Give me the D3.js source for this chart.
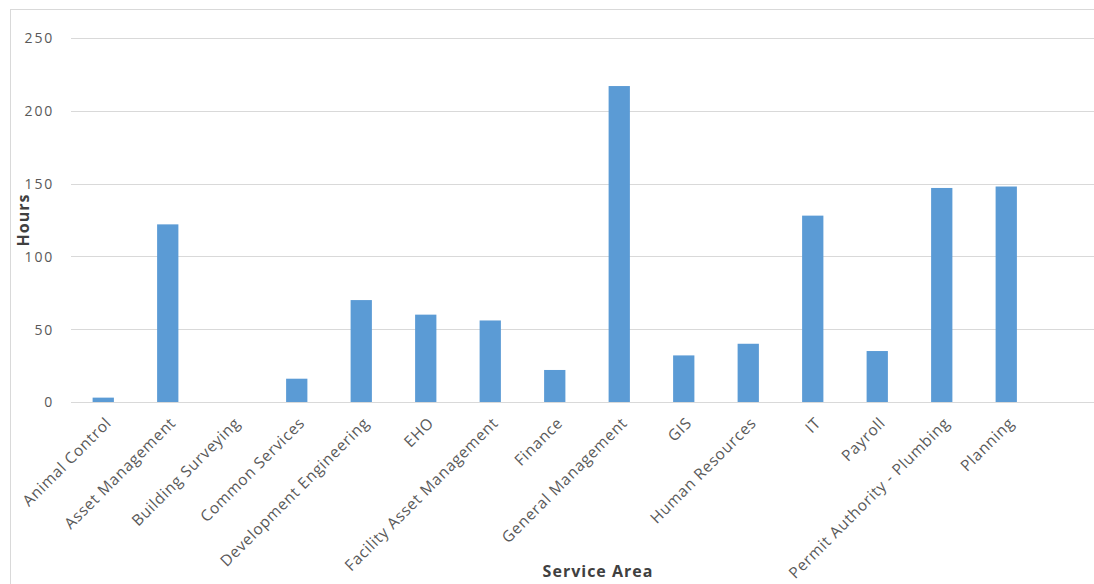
<!DOCTYPE html>
<html><head><meta charset="utf-8">
<script src="https://cdn.jsdelivr.net/npm/d3@7"></script>
<style>
body{margin:0;background:#fff;}
svg text{font-family:"Open Sans",sans-serif;}
</style></head><body>
<svg id="c" width="1094" height="584"></svg>
<script>
const categories = ["Animal Control","Asset Management","Building Surveying","Common Services","Development Engineering","EHO","Facility Asset Management","Finance","General Management","GIS","Human Resources","IT","Payroll","Permit Authority - Plumbing","Planning"];
const hours = [3,122,0,16,70,60,56,22,217,32,40,128,35,147,148];
const yTicks = [0,50,100,150,200,250];
const xTitle = "Service Area";
const yTitle = "Hours";

const svg = d3.select("#c");
svg.append("rect").attr("x",10.5).attr("y",9.5).attr("width",1100).attr("height",600)
  .attr("fill","#fff").attr("stroke","#d9d9d9");

const y = d3.scaleLinear().domain([0,250]).range([402,38]);
const x = d3.scaleBand().domain(categories).range([71,1038.5]).padding(0);
const bw = x.bandwidth()*0.33;

svg.append("g").selectAll("line").data(yTicks).join("line")
  .attr("x1",71).attr("x2",1094).attr("y1",d=>Math.round(y(d))+0.5).attr("y2",d=>Math.round(y(d))+0.5)
  .attr("stroke","#d9d9d9").attr("stroke-width",1);

const yAxis = d3.axisLeft(y).tickValues(yTicks).tickSize(0).tickPadding(0);
const gy = svg.append("g").attr("transform","translate(54,0)").call(yAxis);
gy.select(".domain").remove();
gy.selectAll("text").attr("fill","#595959").style("font-size","14px").style("letter-spacing","1.8px").attr("dy","0.35em");

svg.append("g").selectAll("rect").data(hours).join("rect")
  .attr("x",(d,i)=>x(categories[i])+x.bandwidth()/2-bw/2)
  .attr("width",bw)
  .attr("y",d=>y(d)).attr("height",d=>y(0)-y(d))
  .attr("fill","#5b9bd5");

const xAxis = d3.axisBottom(x).tickSize(0).tickPadding(0);
const gx = svg.append("g").attr("transform","translate(0,402)").call(xAxis);
gx.select(".domain").remove();
gx.selectAll("text").attr("fill","#595959").style("font-size","15.5px").style("letter-spacing","0.7px")
  .attr("text-anchor","end").attr("dy",0).attr("y",0)
  .attr("transform","translate(9,22) rotate(-45)");

svg.append("text").attr("x",598).attr("y",577).attr("text-anchor","middle")
  .attr("fill","#404040").style("font-size","16px").style("letter-spacing","1px").style("font-weight","bold").text(xTitle);
svg.append("text").attr("transform","translate(29,220) rotate(-90)").attr("text-anchor","middle")
  .attr("fill","#404040").style("font-size","16px").style("letter-spacing","1px").style("font-weight","bold").text(yTitle);
</script></body></html>
